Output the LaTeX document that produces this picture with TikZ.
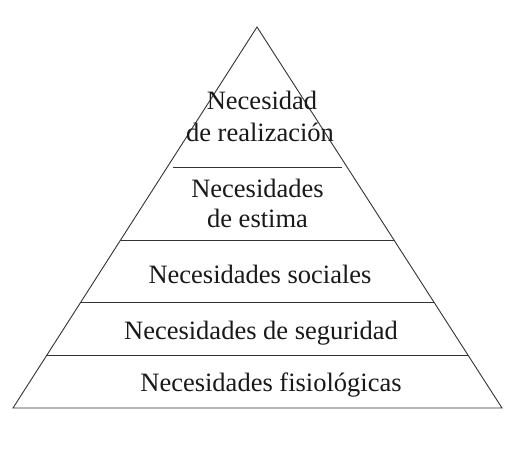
\documentclass[tikz,border=0pt]{standalone}
\usepackage{fontspec}
\setmainfont{Liberation Serif}
\usetikzlibrary{calc}
\begin{document}
\begin{tikzpicture}[x=1pt,y=1pt,
  edge/.style={draw=black!80,line width=0.9pt},
  lbl/.style={anchor=base,inner sep=0pt,font=\fontsize{26.5}{31}\selectfont,text=black!90}]
\useasboundingbox[fill=white] (0,0) rectangle (514,473);
\coordinate (apex) at (257,446);
\coordinate (bl) at (13,65);
\coordinate (br) at (502,65);
\draw[edge,line join=miter] (bl) -- (apex) -- (br) -- cycle;
% level separators
\coordinate (l1a) at ($(bl)!0.1391!(apex)$);
\coordinate (l1b) at ($(br)!0.1391!(apex)$);
\coordinate (l2a) at ($(bl)!0.2782!(apex)$);
\coordinate (l2b) at ($(br)!0.2782!(apex)$);
\coordinate (l3a) at ($(bl)!0.4409!(apex)$);
\coordinate (l3b) at ($(br)!0.4409!(apex)$);
\coordinate (l4a) at (173,306);
\coordinate (l4b) at (342,306);
\draw[edge] (l1a) -- (l1b);
\draw[edge] (l2a) -- (l2b);
\draw[edge] (l3a) -- (l3b);
\draw[edge] (l4a) -- (l4b);
% labels
\node[lbl] (t1) at (271,81) {Necesidades fisiológicas};
\node[lbl] (t2) at (261,133) {Necesidades de seguridad};
\node[lbl] (t3) at (260,189) {Necesidades sociales};
\node[lbl] (t4a) at (257.5,275) {Necesidades};
\node[lbl] (t4b) at (257.5,245) {de estima};
\node[lbl] (t5a) at (262,363) {Necesidad};
\node[lbl] (t5b) at (260,331) {de realización};
\end{tikzpicture}
\end{document}
